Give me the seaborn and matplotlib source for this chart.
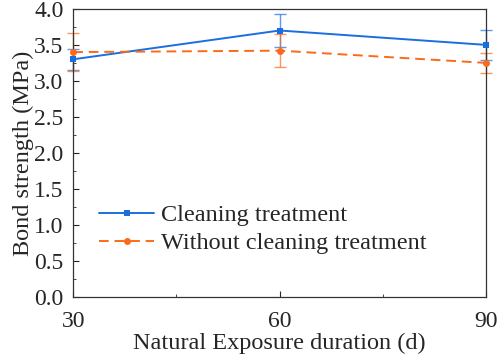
import pandas as pd
import matplotlib.pyplot as plt
import seaborn as sns
from matplotlib.ticker import MultipleLocator

# --- Data
days = [30, 60, 90]
cleaning = [3.30, 3.70, 3.50]
cleaning_err = [0.15, 0.23, 0.21]
no_cleaning = [3.40, 3.42, 3.25]
no_cleaning_err = [0.26, 0.23, 0.14]

df = pd.DataFrame({
    "day": days * 2,
    "strength": cleaning + no_cleaning,
    "err": cleaning_err + no_cleaning_err,
    "group": ["Cleaning treatment"] * 3 + ["Without cleaning treatment"] * 3,
})

sns.set_style("ticks")
plt.rcParams["font.family"] = ["Liberation Serif", "DejaVu Serif"]

colors = {"Cleaning treatment": "#1a6fdf", "Without cleaning treatment": "#fa6a1a"}
markers = {"Cleaning treatment": "s", "Without cleaning treatment": "o"}
dashes = {"Cleaning treatment": "", "Without cleaning treatment": (5, 3)}

fig, ax = plt.subplots(figsize=(4.98, 3.56), dpi=100)

# error bars first, then the lines on top
for g, sub in df.groupby("group"):
    ax.errorbar(sub["day"], sub["strength"], yerr=sub["err"], fmt="none",
                ecolor=colors[g], elinewidth=1.0, capsize=4.5, capthick=1.0, alpha=0.7,
                clip_on=False, zorder=2)

sns.lineplot(data=df, x="day", y="strength", hue="group", style="group",
             palette=colors, markers=markers, dashes=dashes, markersize=5,
             markeredgewidth=0, linewidth=1.4, ax=ax, clip_on=False, zorder=3)

ax.set_xlim(30, 90)
ax.set_ylim(0, 4.0)
ax.xaxis.set_major_locator(MultipleLocator(30))
ax.xaxis.set_minor_locator(MultipleLocator(15))
ax.yaxis.set_major_locator(MultipleLocator(0.5))
ax.yaxis.set_minor_locator(MultipleLocator(0.25))
ax.yaxis.set_major_formatter(plt.FormatStrFormatter("%.1f"))
ax.tick_params(which="both", direction="in", labelsize=17, top=False, right=False)
ax.tick_params(which="major", length=4)
ax.tick_params(which="minor", length=2.5)
ax.tick_params(axis="x", which="major", pad=10)
ax.tick_params(axis="y", which="major", pad=7)
for s in ax.spines.values():
    s.set_linewidth(0.9)
    s.set_color("#333333")

ax.set_xlabel("Natural Exposure duration (d)", fontsize=17.5, labelpad=1)
ax.set_ylabel("Bond strength (MPa)", fontsize=17.5, labelpad=0)

ax.legend(loc="upper left", bbox_to_anchor=(0.04, 0.355), frameon=False, fontsize=17.5,
          handlelength=2.25, handletextpad=0.3, labelspacing=0.25, title=None,
          borderaxespad=0)

plt.subplots_adjust(left=0.147, right=0.976, top=0.975, bottom=0.166)
plt.savefig("out.png", dpi=100)
plt.close()
